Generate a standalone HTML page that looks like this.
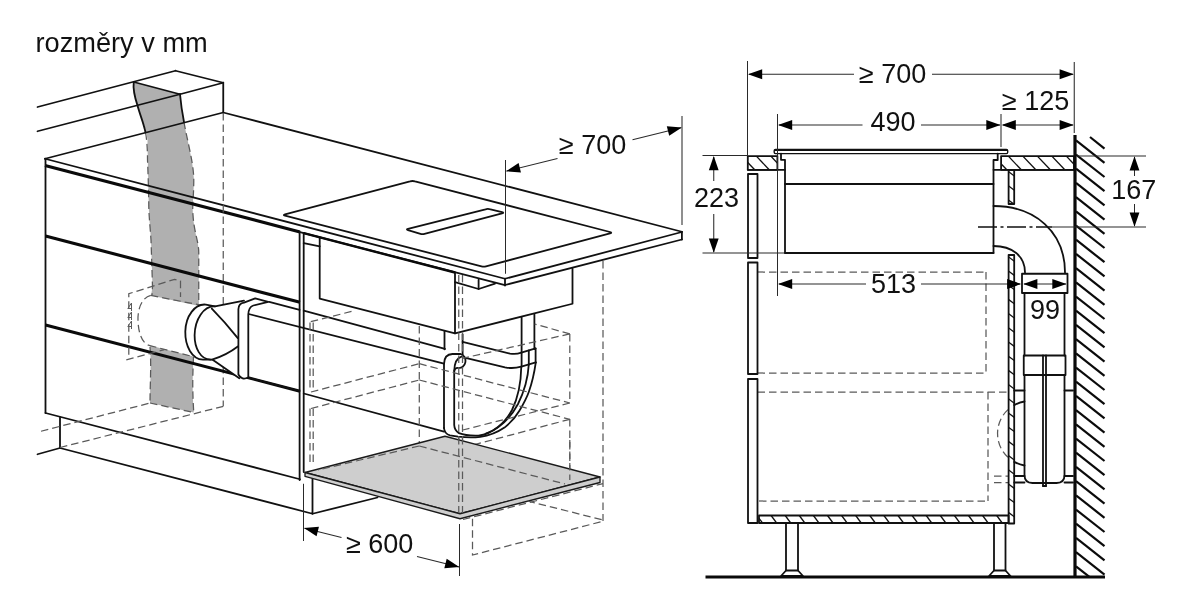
<!DOCTYPE html>
<html><head><meta charset="utf-8"><title>rozměry v mm</title>
<style>
html,body{margin:0;padding:0;background:#fff;}
body{width:1180px;height:590px;overflow:hidden;font-family:"Liberation Sans",sans-serif;}
svg{display:block}
.k{fill:none;stroke:#111;stroke-width:1.8;stroke-linecap:round;stroke-linejoin:round}
.kw{fill:#fff;stroke:#111;stroke-width:1.8;stroke-linejoin:round}
.b{fill:none;stroke:#0a0a0a;stroke-width:3.1;stroke-linecap:butt}
.t{fill:none;stroke:#2a2a2a;stroke-width:1.05}
.d{fill:none;stroke:#5a5a5a;stroke-width:1.25;stroke-dasharray:7.5 4}
.d2{fill:none;stroke:#5a5a5a;stroke-width:1}
.h{fill:none;stroke:#111;stroke-width:1.3}
.hw{fill:none;stroke:#0a0a0a;stroke-width:2.2}
.a{fill:#000;stroke:none}
.w{fill:#fff;stroke:none}
.g{fill:#b0b0b0;stroke:none}
.gp{fill:#cecece;stroke:#1a1a1a;stroke-width:1.35;stroke-linejoin:round}
text{font-family:"Liberation Sans",sans-serif;font-size:27px;fill:#111}
</style></head><body>
<svg width="1180" height="590" viewBox="0 0 1180 590" style="will-change:transform">
<rect x="0" y="0" width="1180" height="590" fill="#fff"/>

<text x="35.50" y="51.80" text-anchor="start" style="font-size:27.2px">rozměry v mm</text>
<g id="left">
<path class="g" d="M133.75,82 L180,94.25 C181,105 182,112 184,122 C187,140 193,160 193.75,177.5 C194,195 192,205 193,215 C194,232 198.75,242 198.75,252.5 L198.75,297 L199,306 L151,295.5 L152.5,287 C152,270 151.5,255 151,240 C150,225 148.75,215 148.75,202.5 C148.5,185 148,172 147.5,140 C146,125 140,115 137.5,105.5 C134,95 133,88 133.75,82 Z"/>
<path class="g" d="M150,345.5 L193.5,356.5 C193,370 192,385 193.75,412.5 L150,403 C150,385 151.5,365 150,345.5 Z"/>
<line class="k" x1="37.50" y1="107.00" x2="175.50" y2="70.75"/>
<line class="k" x1="175.50" y1="70.75" x2="223.25" y2="82.75"/>
<line class="k" x1="223.25" y1="82.75" x2="180.00" y2="94.25"/>
<line class="k" x1="133.75" y1="82.00" x2="180.00" y2="94.25"/>
<line class="k" x1="37.50" y1="131.25" x2="180.00" y2="94.25"/>
<line class="k" x1="223.25" y1="82.75" x2="223.25" y2="112.50"/>
<path class="k" d="M133.75,82 C133,88 134,95 137.5,105.5 C140,115 144,124 145.5,132.5"/>
<path class="k" d="M180,94.25 C181,105 182,112 184,122"/>
<path class="d" d="M145.5,132.5 C147,140 147.5,150 147.5,160 C148,172 148.5,185 148.75,202.5 C148.75,215 150,225 151,240 C151.5,255 152,270 152.5,287 L152,295"/>
<path class="d" d="M184,122 C187,140 193,160 193.75,177.5 C194,195 192,205 193,215 C194,232 198.75,242 198.75,252.5 L198.75,300"/>
<path class="d" d="M150,347 C151.5,365 150,385 150,403"/>
<path class="d" d="M193.5,357 C193,370 192,385 193.75,412.5"/>
<line class="d" x1="150.00" y1="403.00" x2="193.75" y2="412.50"/>
<line class="k" x1="45.00" y1="158.75" x2="223.25" y2="112.50"/>
<line class="k" x1="223.25" y1="112.50" x2="681.90" y2="231.75"/>
<polyline class="k" points="45.00,158.75 505.00,278.75 681.90,232.00"/>
<line class="b" x1="45.00" y1="165.60" x2="300.00" y2="231.90"/>
<line class="k" x1="300.00" y1="232.20" x2="505.00" y2="285.20"/>
<line class="k" x1="505.00" y1="285.00" x2="681.90" y2="239.50"/>
<line class="k" x1="505.00" y1="278.75" x2="505.00" y2="285.50"/>
<line class="k" x1="681.90" y1="232.00" x2="681.90" y2="239.50"/>
<line class="k" x1="45.50" y1="158.75" x2="45.50" y2="413.00"/>
<line class="d" x1="223.25" y1="113.00" x2="223.25" y2="406.00"/>
<line class="b" x1="45.50" y1="236.00" x2="300.00" y2="302.30"/>
<line class="b" x1="45.50" y1="325.00" x2="300.00" y2="391.20"/>
<line class="k" x1="45.50" y1="413.00" x2="300.00" y2="479.25"/>
<line class="k" x1="299.60" y1="232.00" x2="299.60" y2="480.00"/>
<line class="k" x1="303.70" y1="233.00" x2="303.70" y2="472.00"/>
<polyline class="k" points="60.00,417.50 60.00,448.00 312.50,513.75 312.50,478.75"/>
<line class="k" x1="312.50" y1="513.75" x2="377.50" y2="497.50"/>
<line class="k" x1="60.00" y1="448.00" x2="37.50" y2="454.25"/>
<line class="d" x1="41.00" y1="431.25" x2="150.00" y2="403.00"/>
<line class="d" x1="60.00" y1="447.50" x2="223.75" y2="406.25"/>
<path class="k" d="M410,181.4 Q412.5,180.6 415,181.4 L610,232 Q612.5,232.6 610,233.3 L486,266.4 Q483.75,267 481.5,266.4 L285,215.6 Q282.6,215 285,214.3 Z"/>
<path class="k" d="M485.5,209.3 Q487.5,208.6 489.5,209.2 L502,212.1 Q504.5,212.7 502,213.4 L424.5,233.8 Q422.5,234.4 420.5,233.8 L408,230.1 Q405.8,229.5 408,228.9 Z"/>
<polyline class="k" points="319.70,237.50 319.70,298.60 455.00,333.30 455.00,272.50"/>
<line x1="303.7" y1="233.2" x2="455" y2="272.5" stroke="#0a0a0a" stroke-width="2.4"/>
<polyline class="k" points="455.00,333.30 572.50,303.75 572.50,268.75"/>
<line class="k" x1="303.70" y1="243.20" x2="319.70" y2="246.30"/>
<polyline class="k" points="455.00,282.10 478.60,289.00 495.00,283.60"/>
<line class="k" x1="478.60" y1="279.70" x2="478.60" y2="289.00"/>
<path class="d" d="M150.8,295.4 L205,306"/>
<path class="d" d="M149,345.4 L193,356.6"/>
<path class="d" d="M150.8,295.4 C141,298 137.5,310 138,321 C138.5,333 142,343 149,345.4"/>
<polyline class="d" points="128.80,354.70 128.80,293.70 174.60,279.30 180.50,281.00 180.50,297.00"/>
<line class="d" x1="126.30" y1="359.80" x2="164.40" y2="349.70"/>
<polyline class="d2" points="131.50,308.50 127.80,308.50 131.50,303.00 131.50,311.00"/>
<polyline class="d2" points="131.50,317.50 127.80,317.50 131.50,312.00 131.50,320.00"/>
<polyline class="d2" points="131.50,326.50 127.80,326.50 131.50,321.00 131.50,329.00"/>
<path class="w" d="M205.8,304.6 L215,306.4 L255.2,298.4 L268.2,301.8 L248.3,314.8 L248.3,377.3 L239.3,378.2 L213,359.6 L203,359.6 C192,359.5 185,346 185.3,331.6 C185.6,316 195,303.5 205.8,304.6 Z"/>
<path class="k" d="M212,359.6 L203,359.6 C192,359.5 185,346 185.3,331.6 C185.6,316 195,303.5 205.8,304.6 L215,306.4 L244,300.6"/>
<path class="k" d="M215,306.4 C204,305.5 194.8,319 194.6,335.3 C194.5,348 200.5,359.4 210.4,359.6"/>
<path class="k" d="M211.8,308.6 Q225,322 237.8,338.1"/>
<path class="k" d="M212,359.6 Q226,355.5 237.8,346.5"/>
<line class="k" x1="213.00" y1="360.00" x2="239.30" y2="378.20"/>
<path class="kw" d="M238.4,374.5 L238.4,309.2 Q238.6,303.5 244,302.7 L255.2,298.4 L268.2,301.8 L253.3,305.5 Q248.5,307 248.3,314.8 L248.3,377.3 Q242,381 238.4,374.5 Z"/>
<line class="k" x1="269.20" y1="301.80" x2="299.60" y2="309.80"/>
<line class="k" x1="303.70" y1="310.70" x2="445.00" y2="348.90"/>
<line class="k" x1="248.70" y1="314.00" x2="444.00" y2="363.70"/>
<line class="k" x1="248.70" y1="377.80" x2="299.60" y2="391.00"/>
<line class="k" x1="444.50" y1="331.00" x2="444.50" y2="349.30"/>
<line class="k" x1="462.60" y1="334.50" x2="462.60" y2="355.00"/>
<path class="k" d="M444,428 L444,364 Q444.3,354.2 452.4,354 L460.7,354 A5.8,6.8 0 0 1 458.2,367.8 Q454.2,367.6 454.2,372.5 L454.2,425 Q454.5,430.5 459,433.2 Q466,436 478.4,435.6 C492,434.5 505,423 512,410 C518,398 521,384 521.3,366.6"/>
<path class="k" d="M454.2,371 Q454.6,358.5 461.5,356.6"/>
<path class="k" d="M444,428 Q444.5,434 450,435.3 L458,436.6 C466,437.6 474,437.6 480.3,436.9 C491,435.5 498,432 504.5,427.6 C511,422.5 516,416.5 519.4,410.8 C524,403 527,397 528.8,392 C532,383 534,375 535.8,362.4"/>
<path class="k" d="M528.8,364.5 C528,378 524,392 518,404 C511,417 500,428.5 486,433.5"/>
<path class="k" d="M462.6,341.9 L510,353.6 Q516,354.6 521.3,352.7"/>
<path class="k" d="M464.5,357.7 L505,367.3 Q513,369 521.3,366.6"/>
<line class="k" x1="521.60" y1="317.60" x2="521.60" y2="366.60"/>
<line class="k" x1="534.40" y1="314.50" x2="534.40" y2="349.00"/>
<line class="k" x1="528.80" y1="350.50" x2="528.80" y2="364.50"/>
<line class="k" x1="535.60" y1="348.40" x2="535.60" y2="362.40"/>
<line class="k" x1="521.30" y1="352.70" x2="535.60" y2="348.40"/>
<line class="k" x1="521.30" y1="366.60" x2="535.80" y2="362.40"/>
<line class="k" x1="303.75" y1="393.50" x2="444.00" y2="431.60"/>
<line class="d" x1="310.00" y1="322.50" x2="310.00" y2="391.00"/>
<line class="d" x1="310.00" y1="408.50" x2="310.00" y2="466.00"/>
<line class="d" x1="313.20" y1="322.50" x2="313.20" y2="391.00"/>
<line class="d" x1="313.20" y1="408.50" x2="313.20" y2="466.00"/>
<line class="d" x1="310.80" y1="321.70" x2="354.00" y2="310.80"/>
<line class="d" x1="311.00" y1="392.00" x2="419.30" y2="363.70"/>
<line class="d" x1="419.30" y1="363.70" x2="569.80" y2="403.00"/>
<line class="d" x1="569.80" y1="403.00" x2="462.70" y2="430.00"/>
<line class="d" x1="419.30" y1="326.00" x2="419.30" y2="446.00"/>
<line class="d" x1="569.80" y1="333.90" x2="569.80" y2="403.00"/>
<line class="d" x1="569.80" y1="419.00" x2="569.80" y2="480.00"/>
<line class="d" x1="569.80" y1="333.90" x2="462.70" y2="358.30"/>
<line class="d" x1="569.80" y1="333.90" x2="534.60" y2="324.00"/>
<line class="d" x1="311.00" y1="408.50" x2="419.30" y2="380.00"/>
<line class="d" x1="419.30" y1="380.00" x2="569.80" y2="419.30"/>
<line class="d" x1="569.80" y1="419.30" x2="462.70" y2="447.80"/>
<line class="d" x1="458.75" y1="275.00" x2="458.75" y2="513.00"/>
<line class="d" x1="462.50" y1="275.00" x2="462.50" y2="513.00"/>
<line class="d" x1="603.00" y1="261.00" x2="603.00" y2="521.00"/>
<polygon class="gp" points="305.00,472.50 445.00,436.25 600.00,477.00 460.00,513.75"/>
<polygon class="gp" points="305.00,472.50 305.00,476.30 460.00,518.75 600.00,482.50 600.00,477.00 460.00,513.75"/>
<line class="d" x1="419.30" y1="446.00" x2="565.00" y2="484.00"/>
<line class="d" x1="419.30" y1="446.00" x2="318.00" y2="470.00"/>
<line class="d" x1="458.75" y1="437.00" x2="458.75" y2="513.00"/>
<line class="d" x1="462.50" y1="437.00" x2="462.50" y2="513.00"/>
<line class="d" x1="569.80" y1="440.00" x2="569.80" y2="480.00"/>
<line class="d" x1="527.50" y1="501.00" x2="603.00" y2="520.00"/>
<polyline class="d" points="472.50,518.75 472.50,555.00 603.00,521.25"/>
<line class="d" x1="463.00" y1="519.50" x2="603.00" y2="483.60"/>
</g>
<line class="t" x1="505.50" y1="160.00" x2="505.50" y2="273.75"/>
<line class="t" x1="682.00" y1="116.00" x2="682.00" y2="225.00"/>
<line class="t" x1="506.50" y1="171.10" x2="557.50" y2="158.50"/>
<line class="t" x1="632.50" y1="139.80" x2="681.00" y2="127.70"/>
<polygon class="a" points="506.00,171.25 518.60,163.08 520.96,172.59"/>
<polygon class="a" points="681.80,127.50 669.20,135.67 666.84,126.16"/>
<text x="592.50" y="154.30" text-anchor="middle">≥ 700</text>
<line class="t" x1="303.50" y1="483.75" x2="303.50" y2="541.00"/>
<line class="t" x1="459.50" y1="524.00" x2="459.50" y2="576.00"/>
<line class="t" x1="304.50" y1="528.20" x2="341.50" y2="537.40"/>
<line class="t" x1="417.00" y1="556.40" x2="459.00" y2="566.90"/>
<polygon class="a" points="304.00,528.00 318.96,526.69 316.59,536.19"/>
<polygon class="a" points="459.30,567.00 444.34,568.31 446.71,558.81"/>
<text x="379.70" y="553.00" text-anchor="middle">≥ 600</text>
<g id="right">
<defs><clipPath id="cw1"><rect x="748" y="156" width="30" height="14"/></clipPath><clipPath id="cw2"><rect x="1001" y="156" width="73" height="14"/></clipPath><clipPath id="cs"><rect x="759" y="515.5" width="249" height="7.5"/></clipPath><clipPath id="cp"><path d="M1008.6,170H1014.2V204H1008.6Z M1008.6,255H1014.2V523.5H1008.6Z"/></clipPath><clipPath id="cwall"><rect x="1076" y="130" width="40" height="447"/></clipPath></defs>
<line class="d" x1="757.50" y1="272.00" x2="986.00" y2="272.00"/>
<line class="d" x1="986.00" y1="272.00" x2="986.00" y2="373.00"/>
<line class="d" x1="757.50" y1="373.00" x2="986.00" y2="373.00"/>
<line class="d" x1="757.50" y1="392.00" x2="1008.00" y2="392.00"/>
<line class="d" x1="988.00" y1="392.00" x2="988.00" y2="501.00"/>
<line class="d" x1="759.00" y1="501.00" x2="988.00" y2="501.00"/>
<line class="d" x1="994.00" y1="476.00" x2="1008.00" y2="476.00"/>
<line class="d" x1="994.00" y1="482.50" x2="1008.00" y2="482.50"/>
<path class="d" d="M1008,409.6 A32.5,32.5 0 0 0 1008,457.4"/>
<rect x="774.2" y="149.5" width="233.5" height="4.1" rx="1.3" fill="#fff" stroke="#111" stroke-width="1.4"/><line x1="775" y1="150" x2="1007" y2="150" stroke="#111" stroke-width="1.9"/>
<rect class="k" x="747.80" y="156.10" width="29.60" height="13.70"/>
<g clip-path="url(#cw1)">
<line class="h" x1="741.80" y1="156.10" x2="754.70" y2="169.80"/>
<line class="h" x1="756.30" y1="156.10" x2="769.20" y2="169.80"/>
<line class="h" x1="770.80" y1="156.10" x2="783.70" y2="169.80"/>
</g>
<line class="k" x1="747.80" y1="169.80" x2="785.00" y2="169.80"/>
<polyline class="k" points="781.00,153.60 781.00,159.80 785.00,159.80 785.00,253.00"/>
<rect class="k" x="1001.10" y="156.10" width="72.90" height="13.70"/>
<g clip-path="url(#cw2)">
<line class="h" x1="993.80" y1="156.10" x2="1006.80" y2="169.80"/>
<line class="h" x1="1008.30" y1="156.10" x2="1021.30" y2="169.80"/>
<line class="h" x1="1022.80" y1="156.10" x2="1035.80" y2="169.80"/>
<line class="h" x1="1037.30" y1="156.10" x2="1050.30" y2="169.80"/>
<line class="h" x1="1051.80" y1="156.10" x2="1064.80" y2="169.80"/>
<line class="h" x1="1066.30" y1="156.10" x2="1079.30" y2="169.80"/>
<line class="h" x1="1080.80" y1="156.10" x2="1093.80" y2="169.80"/>
</g>
<line class="k" x1="993.50" y1="169.80" x2="1074.00" y2="169.80"/>
<polyline class="k" points="997.70,153.60 997.70,160.00 993.50,160.00 993.50,253.00"/>
<line class="k" x1="785.00" y1="184.00" x2="993.50" y2="184.00"/>
<line class="k" x1="785.00" y1="253.00" x2="993.50" y2="253.00"/>
<rect class="k" x="1008.60" y="170.00" width="5.60" height="34.00"/>
<rect class="k" x="1008.60" y="255.00" width="5.60" height="268.50"/>
<g clip-path="url(#cp)">
<line class="h" x1="1008.00" y1="171.30" x2="1015.00" y2="176.50"/>
<line class="h" x1="1008.00" y1="185.50" x2="1015.00" y2="190.70"/>
<line class="h" x1="1008.00" y1="199.70" x2="1015.00" y2="204.90"/>
<line class="h" x1="1008.00" y1="213.90" x2="1015.00" y2="219.10"/>
<line class="h" x1="1008.00" y1="228.10" x2="1015.00" y2="233.30"/>
<line class="h" x1="1008.00" y1="242.30" x2="1015.00" y2="247.50"/>
<line class="h" x1="1008.00" y1="256.50" x2="1015.00" y2="261.70"/>
<line class="h" x1="1008.00" y1="270.70" x2="1015.00" y2="275.90"/>
<line class="h" x1="1008.00" y1="284.90" x2="1015.00" y2="290.10"/>
<line class="h" x1="1008.00" y1="299.10" x2="1015.00" y2="304.30"/>
<line class="h" x1="1008.00" y1="313.30" x2="1015.00" y2="318.50"/>
<line class="h" x1="1008.00" y1="327.50" x2="1015.00" y2="332.70"/>
<line class="h" x1="1008.00" y1="341.70" x2="1015.00" y2="346.90"/>
<line class="h" x1="1008.00" y1="355.90" x2="1015.00" y2="361.10"/>
<line class="h" x1="1008.00" y1="370.10" x2="1015.00" y2="375.30"/>
<line class="h" x1="1008.00" y1="384.30" x2="1015.00" y2="389.50"/>
<line class="h" x1="1008.00" y1="398.50" x2="1015.00" y2="403.70"/>
<line class="h" x1="1008.00" y1="412.70" x2="1015.00" y2="417.90"/>
<line class="h" x1="1008.00" y1="426.90" x2="1015.00" y2="432.10"/>
<line class="h" x1="1008.00" y1="441.10" x2="1015.00" y2="446.30"/>
<line class="h" x1="1008.00" y1="455.30" x2="1015.00" y2="460.50"/>
<line class="h" x1="1008.00" y1="469.50" x2="1015.00" y2="474.70"/>
<line class="h" x1="1008.00" y1="483.70" x2="1015.00" y2="488.90"/>
<line class="h" x1="1008.00" y1="497.90" x2="1015.00" y2="503.10"/>
<line class="h" x1="1008.00" y1="512.10" x2="1015.00" y2="517.30"/>
<line class="h" x1="1008.00" y1="526.30" x2="1015.00" y2="531.50"/>
</g>
<path class="k" d="M993.5,206 C1035,206 1065,232 1065,272.5"/>
<path class="k" d="M993.5,246 C1012,246 1025,256 1025,272.5"/>
<rect class="kw" x="1022.00" y="273.75" width="45.50" height="19.25"/>
<line class="k" x1="1024.50" y1="293.00" x2="1024.50" y2="355.50"/>
<line class="k" x1="1064.50" y1="293.00" x2="1064.50" y2="355.50"/>
<rect class="k" x="1023.75" y="355.50" width="41.75" height="19.50"/>
<path class="k" d="M1024.5,375 L1024.5,475 Q1024.5,483 1032.5,483 L1056.5,483 Q1064.5,483 1064.5,475 L1064.5,375"/>
<line class="k" x1="1043.00" y1="355.50" x2="1043.00" y2="486.00"/>
<line class="k" x1="1046.00" y1="355.50" x2="1046.00" y2="486.00"/>
<line class="k" x1="1043.00" y1="486.00" x2="1046.00" y2="486.00"/>
<line class="k" x1="1014.20" y1="390.50" x2="1024.50" y2="390.50"/>
<line class="k" x1="1064.50" y1="390.50" x2="1073.00" y2="390.50"/>
<line class="k" x1="1014.20" y1="476.00" x2="1024.50" y2="476.00"/>
<line class="k" x1="1064.50" y1="476.00" x2="1073.00" y2="476.00"/>
<line class="k" x1="1014.20" y1="482.50" x2="1024.50" y2="482.50"/>
<line class="k" x1="1064.50" y1="482.50" x2="1073.00" y2="482.50"/>
<path class="k" d="M1014.2,405.1 A32.5,32.5 0 0 1 1024.5,401.5"/>
<path class="k" d="M1014.2,461.9 A32.5,32.5 0 0 0 1024.5,465.5"/>
<line x1="978" y1="227" x2="1052" y2="227" stroke="#111" stroke-width="1.6" stroke-dasharray="19 3.5 3 3.5"/>
<rect class="k" x="748.00" y="174.00" width="9.50" height="84.00"/>
<rect class="k" x="748.00" y="262.50" width="9.50" height="111.50"/>
<rect class="k" x="748.00" y="379.00" width="9.50" height="144.00"/>
<rect class="k" x="759.00" y="515.50" width="249.60" height="7.50"/>
<g clip-path="url(#cs)">
<line class="h" x1="757.00" y1="515.50" x2="762.50" y2="523.00"/>
<line class="h" x1="771.10" y1="515.50" x2="776.60" y2="523.00"/>
<line class="h" x1="785.20" y1="515.50" x2="790.70" y2="523.00"/>
<line class="h" x1="799.30" y1="515.50" x2="804.80" y2="523.00"/>
<line class="h" x1="813.40" y1="515.50" x2="818.90" y2="523.00"/>
<line class="h" x1="827.50" y1="515.50" x2="833.00" y2="523.00"/>
<line class="h" x1="841.60" y1="515.50" x2="847.10" y2="523.00"/>
<line class="h" x1="855.70" y1="515.50" x2="861.20" y2="523.00"/>
<line class="h" x1="869.80" y1="515.50" x2="875.30" y2="523.00"/>
<line class="h" x1="883.90" y1="515.50" x2="889.40" y2="523.00"/>
<line class="h" x1="898.00" y1="515.50" x2="903.50" y2="523.00"/>
<line class="h" x1="912.10" y1="515.50" x2="917.60" y2="523.00"/>
<line class="h" x1="926.20" y1="515.50" x2="931.70" y2="523.00"/>
<line class="h" x1="940.30" y1="515.50" x2="945.80" y2="523.00"/>
<line class="h" x1="954.40" y1="515.50" x2="959.90" y2="523.00"/>
<line class="h" x1="968.50" y1="515.50" x2="974.00" y2="523.00"/>
<line class="h" x1="982.60" y1="515.50" x2="988.10" y2="523.00"/>
<line class="h" x1="996.70" y1="515.50" x2="1002.20" y2="523.00"/>
</g>
<polyline class="k" points="786.00,523.00 786.00,570.50 781.00,576.00 803.00,576.00 798.00,570.50 798.00,523.00"/>
<line class="k" x1="786.00" y1="570.50" x2="798.00" y2="570.50"/>
<polyline class="k" points="994.00,523.00 994.00,570.50 989.00,576.00 1010.50,576.00 1005.50,570.50 1005.50,523.00"/>
<line class="k" x1="994.00" y1="570.50" x2="1005.50" y2="570.50"/>
<line x1="705.5" y1="577" x2="1105" y2="577" stroke="#0a0a0a" stroke-width="3"/>
<line x1="1075" y1="135" x2="1075" y2="577" stroke="#0a0a0a" stroke-width="3.2"/>
<g clip-path="url(#cwall)">
<line class="hw" x1="1090.00" y1="137.00" x2="1104.50" y2="148.60"/>
<line class="hw" x1="1076.00" y1="140.30" x2="1104.50" y2="162.80"/>
<line class="hw" x1="1076.00" y1="154.50" x2="1104.50" y2="177.00"/>
<line class="hw" x1="1076.00" y1="168.70" x2="1104.50" y2="191.20"/>
<line class="hw" x1="1076.00" y1="182.90" x2="1104.50" y2="205.40"/>
<line class="hw" x1="1076.00" y1="197.10" x2="1104.50" y2="219.60"/>
<line class="hw" x1="1076.00" y1="211.30" x2="1104.50" y2="233.80"/>
<line class="hw" x1="1076.00" y1="225.50" x2="1104.50" y2="248.00"/>
<line class="hw" x1="1076.00" y1="239.70" x2="1104.50" y2="262.20"/>
<line class="hw" x1="1076.00" y1="253.90" x2="1104.50" y2="276.40"/>
<line class="hw" x1="1076.00" y1="268.10" x2="1104.50" y2="290.60"/>
<line class="hw" x1="1076.00" y1="282.30" x2="1104.50" y2="304.80"/>
<line class="hw" x1="1076.00" y1="296.50" x2="1104.50" y2="319.00"/>
<line class="hw" x1="1076.00" y1="310.70" x2="1104.50" y2="333.20"/>
<line class="hw" x1="1076.00" y1="324.90" x2="1104.50" y2="347.40"/>
<line class="hw" x1="1076.00" y1="339.10" x2="1104.50" y2="361.60"/>
<line class="hw" x1="1076.00" y1="353.30" x2="1104.50" y2="375.80"/>
<line class="hw" x1="1076.00" y1="367.50" x2="1104.50" y2="390.00"/>
<line class="hw" x1="1076.00" y1="381.70" x2="1104.50" y2="404.20"/>
<line class="hw" x1="1076.00" y1="395.90" x2="1104.50" y2="418.40"/>
<line class="hw" x1="1076.00" y1="410.10" x2="1104.50" y2="432.60"/>
<line class="hw" x1="1076.00" y1="424.30" x2="1104.50" y2="446.80"/>
<line class="hw" x1="1076.00" y1="438.50" x2="1104.50" y2="461.00"/>
<line class="hw" x1="1076.00" y1="452.70" x2="1104.50" y2="475.20"/>
<line class="hw" x1="1076.00" y1="466.90" x2="1104.50" y2="489.40"/>
<line class="hw" x1="1076.00" y1="481.10" x2="1104.50" y2="503.60"/>
<line class="hw" x1="1076.00" y1="495.30" x2="1104.50" y2="517.80"/>
<line class="hw" x1="1076.00" y1="509.50" x2="1104.50" y2="532.00"/>
<line class="hw" x1="1076.00" y1="523.70" x2="1104.50" y2="546.20"/>
<line class="hw" x1="1076.00" y1="537.90" x2="1104.50" y2="560.40"/>
<line class="hw" x1="1076.00" y1="552.10" x2="1104.50" y2="574.60"/>
<line class="hw" x1="1076.00" y1="566.30" x2="1104.50" y2="588.80"/>
</g>
<line class="t" x1="747.50" y1="61.00" x2="747.50" y2="156.00"/>
<line class="t" x1="1074.25" y1="62.00" x2="1074.25" y2="133.00"/>
<line class="t" x1="777.50" y1="114.00" x2="777.50" y2="296.00"/>
<line class="t" x1="1001.00" y1="114.00" x2="1001.00" y2="147.00"/>
<line class="t" x1="749.00" y1="74.25" x2="854.00" y2="74.25"/>
<line class="t" x1="932.00" y1="74.25" x2="1073.00" y2="74.25"/>
<polygon class="a" points="748.00,74.25 762.20,69.35 762.20,79.15"/>
<polygon class="a" points="1073.80,74.25 1059.60,79.15 1059.60,69.35"/>
<text x="892.50" y="83.00" text-anchor="middle">≥ 700</text>
<line class="t" x1="779.00" y1="125.00" x2="862.50" y2="125.00"/>
<line class="t" x1="921.00" y1="125.00" x2="1000.00" y2="125.00"/>
<polygon class="a" points="778.00,125.00 792.20,120.10 792.20,129.90"/>
<polygon class="a" points="1000.50,125.00 986.30,129.90 986.30,120.10"/>
<text x="893.00" y="131.30" text-anchor="middle">490</text>
<line class="t" x1="1003.00" y1="125.00" x2="1073.00" y2="125.00"/>
<polygon class="a" points="1001.60,125.00 1015.80,120.10 1015.80,129.90"/>
<polygon class="a" points="1073.80,125.00 1059.60,129.90 1059.60,120.10"/>
<text x="1035.50" y="109.50" text-anchor="middle">≥ 125</text>
<line class="t" x1="702.50" y1="155.50" x2="747.50" y2="155.50"/>
<line class="t" x1="702.50" y1="253.00" x2="784.00" y2="253.00"/>
<line class="t" x1="713.75" y1="157.00" x2="713.75" y2="181.00"/>
<line class="t" x1="713.75" y1="214.00" x2="713.75" y2="252.00"/>
<polygon class="a" points="713.75,156.00 718.65,170.20 708.85,170.20"/>
<polygon class="a" points="713.75,252.80 708.85,238.60 718.65,238.60"/>
<text x="716.50" y="207.00" text-anchor="middle">223</text>
<line class="t" x1="1077.00" y1="156.00" x2="1146.00" y2="156.00"/>
<line class="t" x1="1052.00" y1="227.00" x2="1146.00" y2="227.00"/>
<line class="t" x1="1134.50" y1="157.00" x2="1134.50" y2="176.00"/>
<line class="t" x1="1134.50" y1="204.00" x2="1134.50" y2="226.00"/>
<polygon class="a" points="1134.50,156.30 1139.40,170.50 1129.60,170.50"/>
<polygon class="a" points="1134.50,226.80 1129.60,212.60 1139.40,212.60"/>
<text x="1133.75" y="199.00" text-anchor="middle">167</text>
<line class="t" x1="779.00" y1="284.00" x2="866.00" y2="284.00"/>
<line class="t" x1="921.00" y1="284.00" x2="1020.00" y2="284.00"/>
<polygon class="a" points="778.00,284.00 792.20,279.10 792.20,288.90"/>
<polygon class="a" points="1021.30,284.00 1007.10,288.90 1007.10,279.10"/>
<text x="893.50" y="292.60" text-anchor="middle">513</text>
<line class="t" x1="1024.00" y1="284.00" x2="1066.00" y2="284.00"/>
<polygon class="a" points="1023.20,284.00 1037.40,279.10 1037.40,288.90"/>
<polygon class="a" points="1066.50,284.00 1052.30,288.90 1052.30,279.10"/>
<text x="1045.00" y="319.00" text-anchor="middle">99</text>
</g>
</svg></body></html>
